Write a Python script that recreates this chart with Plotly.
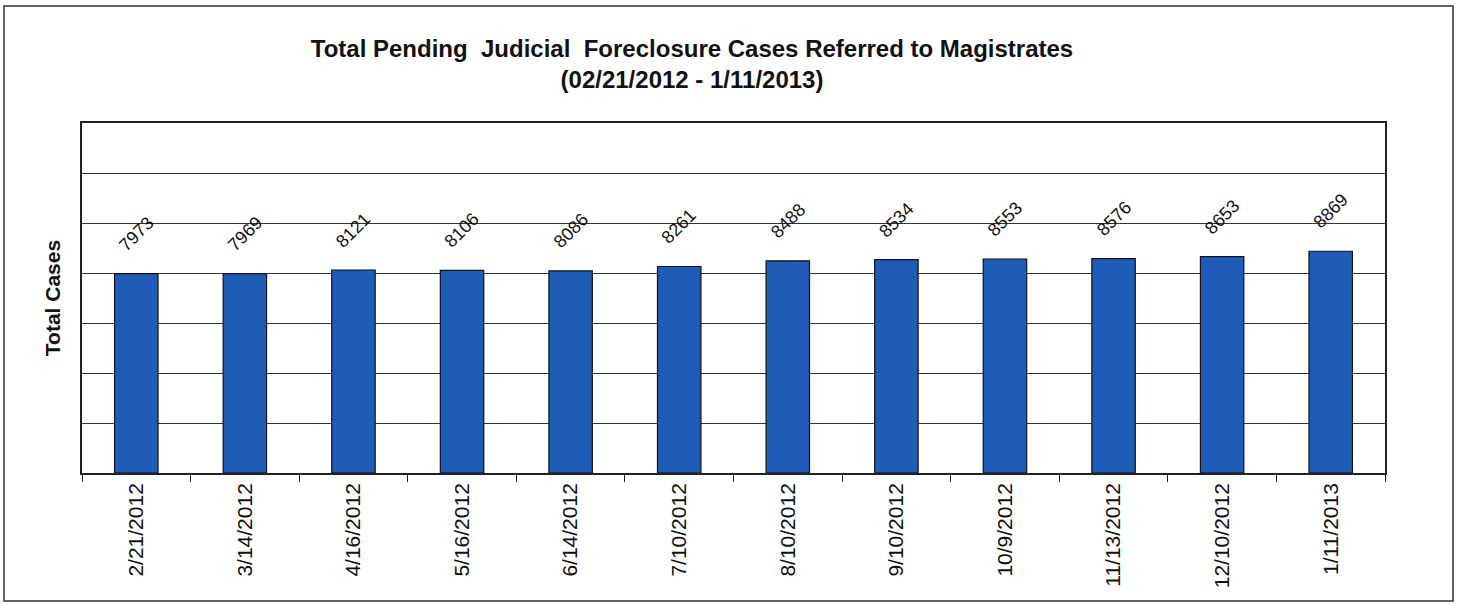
import plotly.graph_objects as go

dates = ["2/21/2012", "3/14/2012", "4/16/2012", "5/16/2012", "6/14/2012", "7/10/2012",
         "8/10/2012", "9/10/2012", "10/9/2012", "11/13/2012", "12/10/2012", "1/11/2013"]
cases = [7973, 7969, 8121, 8106, 8086, 8261, 8488, 8534, 8553, 8576, 8653, 8869]

W, H = 1457, 604
L, R, T, B = 82, 1385, 123, 473

fig = go.Figure(go.Bar(
    x=dates, y=cases,
    marker=dict(color="#1f5cb8", line=dict(color="#111111", width=1.2)),
    hoverinfo="x+y",
))

for d, v in zip(dates, cases):
    fig.add_annotation(x=d, y=v, text=str(v), showarrow=False, textangle=-45,
                       yshift=40, yanchor="middle", xanchor="center",
                       font=dict(family="Liberation Sans, Arial", size=18, color="#111111"))

def px(xp):
    return (xp - L) / (R - L)

def py(yp):
    return (B - yp) / (B - T)

fig.add_shape(type="rect", xref="paper", yref="paper",
              x0=px(4), x1=px(1453), y0=py(601), y1=py(6),
              line=dict(color="#333333", width=1.5), layer="below")

fig.update_layout(
    width=W, height=H,
    margin=dict(l=L, r=W - R, t=T, b=H - B),
    paper_bgcolor="white", plot_bgcolor="white",
    bargap=0.6,
    showlegend=False,
    title=dict(text="<b>Total Pending  Judicial  Foreclosure Cases Referred to Magistrates<br>(02/21/2012 - 1/11/2013)</b>",
               x=692 / W, xanchor="center", y=1 - 57 / H, yanchor="middle",
               font=dict(family="Liberation Sans, Arial", size=24, color="#111111")),
    xaxis=dict(type="category", tickson="boundaries", ticks="outside", ticklen=7,
               tickcolor="#222222", tickangle=-90,
               tickfont=dict(family="Liberation Sans, Arial", size=21, color="#111111"),
               showline=True, linecolor="#222222", linewidth=1.5, mirror=True,
               showgrid=False),
    yaxis=dict(range=[0, 14000], dtick=2000, showticklabels=False, ticks="",
               showgrid=True, gridcolor="#333333", gridwidth=1.3,
               showline=True, linecolor="#222222", linewidth=1.5, mirror=True,
               zeroline=False,
               title=dict(text="<b>Total Cases</b>", standoff=14,
                          font=dict(family="Liberation Sans, Arial", size=21, color="#111111"))),
)

fig.write_html("out.html", config={"displayModeBar": False},
               post_script="document.body.style.margin='0';")
